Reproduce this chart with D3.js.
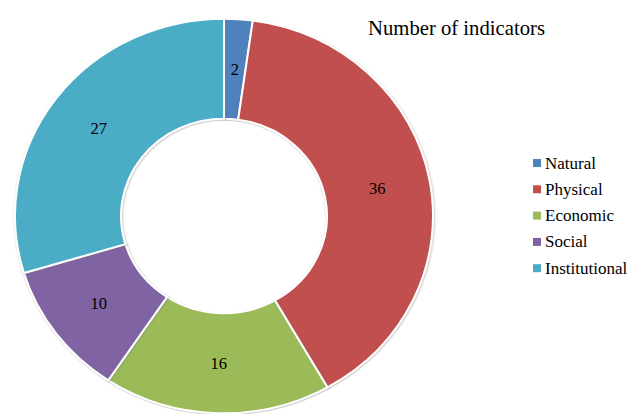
<!DOCTYPE html>
<html>
<head>
<meta charset="utf-8">
<script src="https://cdn.jsdelivr.net/npm/d3@7"></script>
<style>
  body { margin: 0; background: #fff; }
</style>
</head>
<body>
<svg id="chart" width="630" height="414"></svg>
<script>
// data
const categories = ["Natural", "Physical", "Economic", "Social", "Institutional"];
const values = [2, 36, 16, 10, 27];
const colors = ["#4f81bd", "#c0504d", "#9bbb59", "#8064a2", "#4bacc6"];
const title = "Number of indicators";

const FONT = '"Liberation Serif"';

const cx = 224, cy = 216;
const rOuter = 209, rInner = 103;
const ky = 0.944; // donut is a bit squashed vertically

const svg = d3.select("#chart");

const defs = svg.append("defs");
const shadow = defs.append("filter")
  .attr("id", "shade")
  .attr("x", "-10%").attr("y", "-10%")
  .attr("width", "120%").attr("height", "120%");
shadow.append("feDropShadow")
  .attr("dx", 0.6).attr("dy", 0.8)
  .attr("stdDeviation", 0.8)
  .attr("flood-color", "#808080")
  .attr("flood-opacity", 0.55);

const pie = d3.pie().sort(null).value(d => d.value);
const arc = d3.arc().innerRadius(rInner).outerRadius(rOuter);

const data = categories.map((c, i) => ({ name: c, value: values[i], color: colors[i] }));
const arcs = pie(data);

// slices
const ring = svg.append("g")
  .attr("transform", `translate(${cx},${cy}) scale(1,${ky})`);

ring.selectAll("path")
  .data(arcs)
  .join("path")
  .attr("d", arc)
  .attr("fill", d => d.data.color)
  .attr("stroke", "#fff")
  .attr("stroke-width", 2)
  .attr("vector-effect", "non-scaling-stroke")
  .attr("filter", "url(#shade)");

// value labels at slice centroids
const labels = svg.append("g").attr("transform", `translate(${cx},${cy})`);
labels.selectAll("text")
  .data(arcs)
  .join("text")
  .attr("x", d => arc.centroid(d)[0])
  .attr("y", d => arc.centroid(d)[1] * ky + 5.5)
  .attr("text-anchor", "middle")
  .style("font-family", FONT)
  .attr("font-size", 16.5)
  .text(d => d.data.value);

// title
svg.append("text")
  .attr("x", 368)
  .attr("y", 35)
  .style("font-family", FONT)
  .attr("font-size", 20.7)
  .text(title);

// legend
const legend = svg.append("g").attr("transform", "translate(533,163)");
const item = legend.selectAll("g")
  .data(data)
  .join("g")
  .attr("transform", (d, i) => `translate(0,${i * 26.3})`);

item.append("rect")
  .attr("x", 0).attr("y", -4)
  .attr("width", 8).attr("height", 8)
  .attr("fill", d => d.color);

item.append("text")
  .attr("x", 12)
  .attr("y", 5.5)
  .style("font-family", FONT)
  .attr("font-size", 17)
  .text(d => d.name);
</script>
</body>
</html>
